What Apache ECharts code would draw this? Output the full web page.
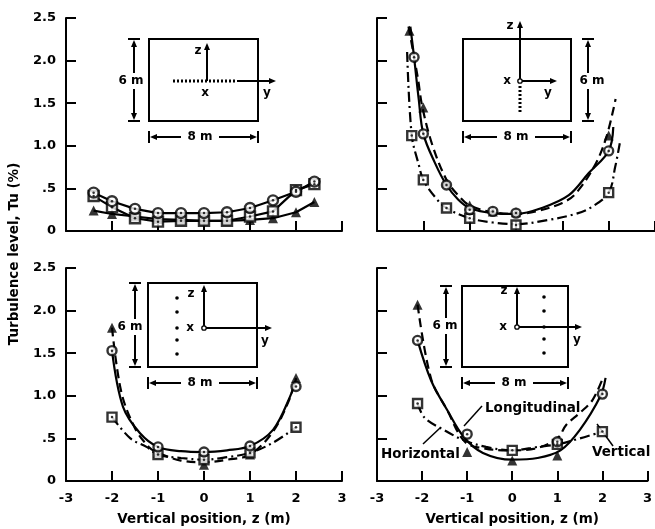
<!DOCTYPE html>
<html>
<head>
<meta charset="utf-8">
<script src="https://cdn.jsdelivr.net/npm/echarts@6/dist/echarts.min.js"></script>
<style>
  html, body { margin:0; padding:0; background:#fff; }
  #chart { width:655px; height:529px; }
</style>
</head>
<body>
<div id="chart"></div>
<script>
// tick labels
const xTickLabels = ['-3', '-2', '-1', '0', '1', '2', '3'];
const yTickLabels = ['0', '.5', '1.0', '1.5', '2.0', '2.5'];

// panel 1 (top left) - horizontal traverse, measured points
const zTL = [-2.4, -2, -1.5, -1, -0.5, 0, 0.5, 1, 1.5, 2, 2.4];
const tlLong = [0.45, 0.35, 0.26, 0.21, 0.21, 0.21, 0.22, 0.27, 0.36, 0.46, 0.58];
const tlHoriz = [0.41, 0.28, 0.15, 0.11, 0.12, 0.12, 0.12, 0.17, 0.23, 0.48, 0.55];
const tlVert = [0.24, 0.2, 0.17, 0.14, 0.13, 0.12, 0.12, 0.13, 0.15, 0.22, 0.34];

// panel 2 (top right) - vertical traverse at centre
const trLongZ = [-2.2, -2, -1.5, -1, -0.5, 0, 2];
const trLong = [2.04, 1.14, 0.54, 0.25, 0.23, 0.21, 0.94];
const trHorizZ = [-2.25, -2, -1.5, -1, 0, 2];
const trHoriz = [1.12, 0.6, 0.27, 0.15, 0.07, 0.45];
const trVertZ = [-2.3, -2, -1.5, -1, -0.5, 0, 2];
const trVert = [2.35, 1.45, 0.57, 0.3, 0.23, 0.22, 1.12];
const trLongCurve = [[-2.28, 2.4], [-2.2, 2.04], [-2.1, 1.55], [-2, 1.14], [-1.75, 0.8], [-1.5, 0.54], [-1.25, 0.37], [-1, 0.27], [-0.5, 0.21], [0, 0.2], [0.56, 0.27], [1.14, 0.42], [1.57, 0.68], [2, 0.94], [2.1, 1.22]];
const trVertCurve = [[-2.32, 2.4], [-2.12, 1.8], [-2.02, 1.45], [-1.8, 1.0], [-1.5, 0.6], [-1.25, 0.42], [-1, 0.3], [-0.5, 0.22], [0, 0.2], [0.5, 0.24], [1, 0.33], [1.29, 0.44], [1.72, 0.79], [1.96, 1.12], [2.15, 1.55]];
const trHorizCurve = [[-2.35, 2.1], [-2.25, 1.12], [-2.1, 0.78], [-2, 0.6], [-1.75, 0.4], [-1.5, 0.27], [-1, 0.15], [-0.5, 0.1], [0, 0.08], [0.7, 0.13], [1.28, 0.2], [1.63, 0.28], [2, 0.45], [2.14, 0.75], [2.24, 1.03]];

// panel 3 (bottom left) - off-centre traverse, y = -2 m
const blZ = [-2, -1, 0, 1, 2];
const blLong = [1.53, 0.40, 0.34, 0.41, 1.11];
const blHoriz = [0.75, 0.31, 0.25, 0.33, 0.63];
const blVert = [1.80, 0.33, 0.19, 0.31, 1.21];
const blLongCurve = [[-2, 1.53], [-1.76, 0.87], [-1.39, 0.56], [-1, 0.4], [-0.5, 0.35], [0, 0.34], [0.5, 0.36], [1, 0.41], [1.5, 0.6], [1.87, 0.99], [2, 1.2]];
const blVertCurve = [[-2, 1.8], [-1.8, 1.05], [-1.5, 0.62], [-1.2, 0.4], [-1, 0.33], [-0.5, 0.24], [0, 0.22], [0.5, 0.25], [1, 0.31], [1.5, 0.58], [1.85, 0.95], [2, 1.21]];
const blHorizCurve = [[-2, 0.75], [-1.6, 0.5], [-1.25, 0.4], [-1, 0.31], [-0.5, 0.27], [0, 0.25], [0.5, 0.28], [1, 0.33], [1.5, 0.45], [2, 0.63]];

// panel 4 (bottom right) - off-centre traverse, y = +2 m
const brLongZ = [-2.1, -1, 1, 2];
const brLong = [1.65, 0.55, 0.46, 1.02];
const brHorizZ = [-2.1, 0, 1, 2];
const brHoriz = [0.91, 0.36, 0.43, 0.58];
const brVertZ = [-2.1, -1, 0, 1];
const brVert = [2.07, 0.34, 0.24, 0.3];
const brLongCurve = [[-2.1, 1.65], [-1.8, 1.18], [-1.44, 0.83], [-1.08, 0.52], [-0.65, 0.33], [0, 0.25], [0.56, 0.27], [1.07, 0.36], [1.5, 0.6], [1.96, 1.0], [2.07, 1.21]];
const brHorizCurve = [[-2.1, 0.91], [-1.94, 0.74], [-1.52, 0.6], [-1.08, 0.48], [-0.58, 0.4], [0, 0.36], [0.56, 0.4], [1, 0.43], [1.5, 0.5], [2, 0.58]];
const brVertCurve = [[-2.1, 2.07], [-1.8, 1.2], [-1.44, 0.83], [-1.05, 0.46], [-0.6, 0.38], [0, 0.36], [0.5, 0.38], [1, 0.5], [1.2, 0.66], [1.5, 0.8], [1.78, 0.95], [2.02, 1.22]];

// measuring point dots drawn in the small sketches
const sketchDotsY = [-30, -16, 0, 12, 26];

const FONT = '"DejaVu Sans", sans-serif';
const DASH = [9, 5];
const DASHDOT = [10, 4, 2, 4];

const chart = echarts.init(document.getElementById('chart'));

const grids = [
  { left: 66, top: 18, width: 276, height: 213 },
  { left: 377, top: 18, width: 279, height: 213 },
  { left: 66, top: 268, width: 276, height: 213 },
  { left: 377, top: 268, width: 279, height: 213 }
];

const axisBase = {
  axisLine: { show: true, onZero: false, lineStyle: { color: '#000', width: 2 } },
  axisTick: { show: true, inside: true, length: 10, lineStyle: { color: '#000', width: 2 } },
  splitLine: { show: false }
};

const xAxes = grids.map((g, i) => Object.assign({}, axisBase, {
  gridIndex: i, type: 'value', min: -3, max: 3, interval: 1,
  axisLabel: {
    show: i >= 2, margin: 11, color: '#000', fontWeight: 'bold', fontSize: 13, fontFamily: FONT,
    formatter: v => xTickLabels[Math.round(v + 3)]
  },
  name: i >= 2 ? 'Vertical position, z (m)' : '',
  nameLocation: 'middle', nameGap: 31,
  nameTextStyle: { color: '#000', fontWeight: 'bold', fontSize: 13.5, fontFamily: FONT }
}));

const yAxes = grids.map((g, i) => Object.assign({}, axisBase, {
  gridIndex: i, type: 'value', min: 0, max: 2.5, interval: 0.5,
  axisLabel: {
    show: i % 2 === 0, margin: 10, color: '#000', fontWeight: 'bold', fontSize: 13, fontFamily: FONT,
    formatter: v => yTickLabels[Math.round(v / 0.5)]
  }
}));

function pairs(zs, vs) { return zs.map((z, i) => [z, vs[i]]); }

function curve(gi, pts, type, smooth) {
  return {
    type: 'line', xAxisIndex: gi, yAxisIndex: gi, data: pts,
    smooth: smooth === undefined ? 0.35 : smooth, symbol: 'none', silent: true, z: 2,
    lineStyle: { color: '#000', width: 2.2, type: type }
  };
}

function marks(gi, zs, vs, kind, size) {
  const data = pairs(zs, vs);
  size = size || 9;
  if (kind === 'tri') {
    return [{
      type: 'scatter', xAxisIndex: gi, yAxisIndex: gi, data, symbol: 'triangle',
      symbolSize: size + 1, itemStyle: { color: '#000' }, z: 4, silent: true
    }];
  }
  return [
    {
      type: 'scatter', xAxisIndex: gi, yAxisIndex: gi, data,
      symbol: kind === 'circ' ? 'circle' : 'rect', symbolSize: size,
      itemStyle: { color: '#fff', borderColor: '#000', borderWidth: 2.4 }, z: 5, silent: true
    },
    {
      type: 'scatter', xAxisIndex: gi, yAxisIndex: gi, data, symbol: 'circle',
      symbolSize: 2.5, itemStyle: { color: '#000' }, z: 6, silent: true
    }
  ];
}

const series = [
  // top left: straight segments joining the points
  curve(0, pairs(zTL, tlLong), 'solid', false),
  curve(0, pairs(zTL, tlHoriz), 'solid', false),
  curve(0, pairs(zTL, tlVert), 'solid', false),
  ...marks(0, zTL, tlVert, 'tri'),
  ...marks(0, zTL, tlHoriz, 'sq', 10),
  ...marks(0, zTL, tlLong, 'circ', 10),
  // top right
  curve(1, trLongCurve, 'solid'),
  curve(1, trVertCurve, DASH),
  curve(1, trHorizCurve, DASHDOT),
  ...marks(1, trVertZ, trVert, 'tri'),
  ...marks(1, trHorizZ, trHoriz, 'sq'),
  ...marks(1, trLongZ, trLong, 'circ'),
  // bottom left
  curve(2, blLongCurve, 'solid'),
  curve(2, blVertCurve, DASH),
  curve(2, blHorizCurve, DASHDOT),
  ...marks(2, blZ, blVert, 'tri'),
  ...marks(2, blZ, blHoriz, 'sq'),
  ...marks(2, blZ, blLong, 'circ'),
  // bottom right
  curve(3, brLongCurve, 'solid'),
  curve(3, brVertCurve, DASH),
  curve(3, brHorizCurve, DASHDOT),
  ...marks(3, brVertZ, brVert, 'tri'),
  ...marks(3, brHorizZ, brHoriz, 'sq'),
  ...marks(3, brLongZ, brLong, 'circ')
];

// ---- sketches and labels ----
const G = [];
function ln(x1, y1, x2, y2, w, dash) {
  G.push({ type: 'line', silent: true, shape: { x1, y1, x2, y2 },
    style: { stroke: '#000', lineWidth: w || 2, lineDash: dash || null } });
}
function head(x, y, dir) {
  const s = 7, h = 3;
  let p;
  if (dir === 'u') p = [[x, y], [x - h, y + s], [x + h, y + s]];
  if (dir === 'd') p = [[x, y], [x - h, y - s], [x + h, y - s]];
  if (dir === 'l') p = [[x, y], [x + s, y - h], [x + s, y + h]];
  if (dir === 'r') p = [[x, y], [x - s, y - h], [x - s, y + h]];
  G.push({ type: 'polygon', silent: true, shape: { points: p }, style: { fill: '#000' } });
}
function txt(x, y, t, size, align) {
  G.push({ type: 'text', silent: true, style: {
    text: t, x, y, font: 'bold ' + (size || 12) + 'px ' + FONT,
    textAlign: align || 'center', textVerticalAlign: 'middle', fill: '#000' } });
}
function dot(x, y, r) {
  G.push({ type: 'circle', silent: true, shape: { cx: x, cy: y, r: r || 1.8 }, style: { fill: '#000' } });
}
function ring(x, y) {
  G.push({ type: 'circle', silent: true, shape: { cx: x, cy: y, r: 2.2 }, style: { fill: '#fff', stroke: '#000', lineWidth: 1.3 } });
}
function box(x, y, w, h) {
  G.push({ type: 'rect', silent: true, shape: { x, y, width: w, height: h }, style: { fill: 'none', stroke: '#000', lineWidth: 2 } });
}
function vdim(x, y1, y2, ly, lx) {
  ln(x - 6, y1, x + 6, y1); ln(x - 6, y2, x + 6, y2);
  head(x, y1 + 1, 'u'); ln(x, y1 + 7, x, ly - 8);
  txt(lx, ly, '6 m', 12);
  ln(x, ly + 8, x, y2 - 7); head(x, y2 - 1, 'd');
}
function hdim(y, x1, x2, lx) {
  ln(x1, y - 6, x1, y + 6); ln(x2, y - 6, x2, y + 6);
  head(x1 + 1, y, 'l'); ln(x1 + 7, y, lx - 19, y);
  txt(lx, y, '8 m', 12);
  ln(lx + 19, y, x2 - 7, y); head(x2 - 1, y, 'r');
}

// top left sketch: horizontal row of points
box(149, 39, 109, 82);
ln(207, 81, 207, 50); head(207, 43, 'u'); txt(198, 51, 'z');
ln(173, 81, 237, 81, 3, [2, 2]);
ln(237, 81, 269, 81); head(276, 81, 'r'); txt(267, 93, 'y');
txt(205, 93, 'x');
vdim(134, 39, 121, 81, 131);
hdim(137, 149, 258, 200);

// top right sketch: vertical line of points at the centre
box(463, 39, 108, 82);
ln(520, 81, 520, 28); head(520, 21, 'u'); txt(510, 26, 'z');
ln(522, 81, 550, 81); head(557, 81, 'r'); txt(548, 93, 'y');
ln(520, 86, 520, 113, 3, [2, 2]);
ring(520, 81); txt(507, 81, 'x');
vdim(588, 39, 121, 81, 592);
hdim(137, 463, 571, 516);

// bottom left sketch: points at y = -2 m
box(148, 283, 109, 84);
ln(204, 328, 204, 292); head(204, 285, 'u'); txt(191, 294, 'z');
ln(206, 328, 265, 328); head(272, 328, 'r'); txt(265, 341, 'y');
ring(204, 328); txt(190, 328, 'x');
sketchDotsY.forEach(d => dot(177, 328 + d));
vdim(135, 283, 367, 327, 130);
hdim(383, 148, 257, 200);

// bottom right sketch: points at y = +2 m
box(462, 286, 106, 81);
ln(517, 327, 517, 294); head(517, 287, 'u'); txt(504, 291, 'z');
ln(519, 327, 575, 327); head(582, 327, 'r'); txt(577, 340, 'y');
ring(517, 327); txt(503, 327, 'x');
sketchDotsY.forEach(d => dot(544, 327 + d));
vdim(446, 286, 367, 326, 445);
hdim(383, 462, 568, 514);

// curve labels
txt(485, 408, 'Longitudinal', 13.5, 'left');
ln(482, 406, 464, 426, 1.5);
txt(381, 454, 'Horizontal', 13.5, 'left');
ln(423, 444, 440, 428, 1.5);
txt(592, 452, 'Vertical', 13.5, 'left');
ln(613, 446, 597, 424, 1.5);

// shared y axis title
G.push({ type: 'text', silent: true, x: 14, y: 254, rotation: Math.PI / 2, style: {
  text: 'Turbulence level, Tu (%)', x: 0, y: 0, font: 'bold 13.5px ' + FONT,
  textAlign: 'center', textVerticalAlign: 'middle', fill: '#000' } });

chart.setOption({
  animation: false,
  backgroundColor: '#fff',
  grid: grids,
  xAxis: xAxes,
  yAxis: yAxes,
  series: series,
  graphic: G
});
</script>
</body>
</html>
